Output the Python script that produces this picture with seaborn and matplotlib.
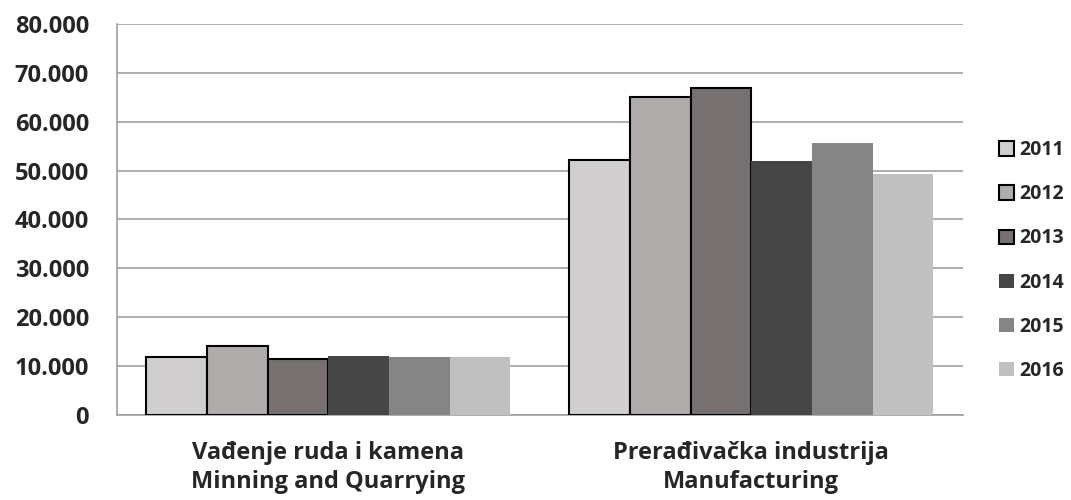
import matplotlib
matplotlib.use('Agg')
import matplotlib.pyplot as plt
import matplotlib.ticker as mticker
import seaborn as sns
import pandas as pd

# podaci
categories = ['Vađenje ruda i kamena\nMinning and Quarrying',
              'Prerađivačka industrija\nManufacturing']
years = ['2011', '2012', '2013', '2014', '2015', '2016']
mining = [11900, 14200, 11450, 12000, 11800, 11800]
manufacturing = [52100, 65000, 67000, 52000, 55700, 49300]
colors = ['#D0CECF', '#AFACAB', '#767170', '#464646', '#858585', '#C0C0C0']

rows = []
for y, a, b in zip(years, mining, manufacturing):
    rows.append({'cat': categories[0], 'year': y, 'val': a})
    rows.append({'cat': categories[1], 'year': y, 'val': b})
df = pd.DataFrame(rows)

sns.set_style('white')
plt.rcParams['font.family'] = ['Open Sans', 'DejaVu Sans']
plt.rcParams['font.weight'] = 'bold'

fig = plt.figure(figsize=(10.71, 5.0), dpi=100)
ax = fig.add_axes([0.109, 0.17, 0.79, 0.782])

sns.barplot(data=df, x='cat', y='val', hue='year', order=categories,
            hue_order=years, palette=colors, width=0.86, gap=0,
            saturation=1, legend=False, ax=ax, zorder=3)

# rubovi samo za prve tri godine
for i, cont in enumerate(ax.containers):
    for p in cont.patches:
        if i < 3:
            p.set_edgecolor('black')
            p.set_linewidth(1.5)
        else:
            p.set_edgecolor('none')

ax.set_ylim(0, 80000)
ax.set_xlim(-0.5, 1.5)
ax.yaxis.set_major_locator(mticker.MultipleLocator(10000))
ax.yaxis.set_major_formatter(mticker.FuncFormatter(
    lambda v, _: '0' if v == 0 else f'{int(v):,}'.replace(',', '.')))
ax.grid(axis='y', color='#A0A0A0', linewidth=1.2, zorder=0)
ax.set_axisbelow(True)

for s in ['top', 'right']:
    ax.spines[s].set_visible(False)
ax.spines['left'].set_color('#A0A0A0')
ax.spines['bottom'].set_color('#A0A0A0')
ax.spines['left'].set_linewidth(1.2)
ax.spines['bottom'].set_linewidth(1.2)

ax.tick_params(axis='y', length=8, color='#A0A0A0', width=1.2,
               labelsize=17, pad=12)
ax.tick_params(axis='x', which='major', length=0, labelsize=17, pad=19)
ax.set_xticks([-0.5, 0.5, 1.5], minor=True)
ax.tick_params(axis='x', which='minor', length=8, color='#A0A0A0', width=1.2)
for t in ax.get_xticklabels() + ax.get_yticklabels():
    t.set_fontweight('bold')
for t in ax.get_xticklabels():
    t.set_linespacing(1.25)
ax.set_xlabel('')
ax.set_ylabel('')

ax.legend(ax.containers, years, loc='center left', bbox_to_anchor=(1.022, 0.395),
          frameon=False, handlelength=0.75, handleheight=0.75,
          handletextpad=0.3, labelspacing=1.24,
          prop={'weight': 'bold', 'size': 14})

fig.savefig('out.png', dpi=100)
